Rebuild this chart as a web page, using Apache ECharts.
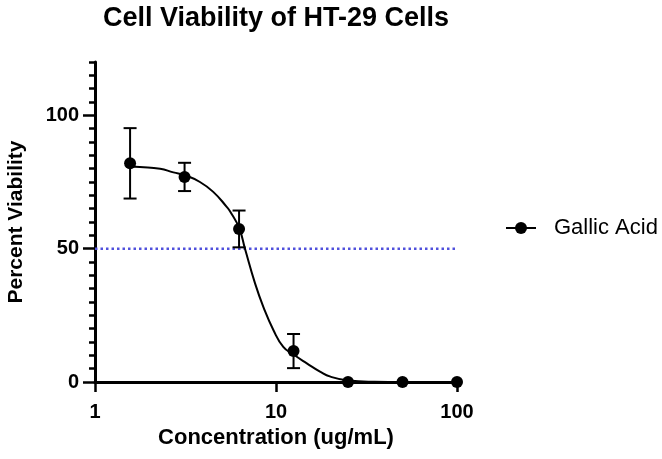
<!DOCTYPE html>
<html lang="en">
<head>
    <meta charset="UTF-8">
    <title>Cell Viability of HT-29 Cells</title>
    <script src="https://cdn.jsdelivr.net/npm/echarts@6/dist/echarts.min.js"></script>
</head>
<body style="margin:0">
    <div id="chart" style="width: 662px; height: 459px;"></div>
</body>
</html>
<script>
    // measured points (concentration in ug/mL)
    var doseX = [1.5625, 3.125, 6.25, 12.5, 25, 50, 100];
    var viabilityMean = [82, 76.9, 57.4, 11.6, 0, 0, 0];
    var viabilityErr = [13.2, 5.3, 6.9, 6.4, 0, 0, 0];

    // fitted curve
    var fitX = [1.5625, 1.77, 2.29, 2.71, 3.125, 3.8, 4.5, 5.34, 5.57, 6.25, 6.74, 7.66, 8.51, 9.67, 10.97, 12.5, 14.8, 17.5, 20, 25, 35, 50, 100];
    var fitY = [80.8, 80.6, 80.0, 78.6, 77.6, 75.0, 71.3, 65.7, 64.0, 57.8, 50, 37, 28.2, 19.5, 13.2, 10.3, 7.0, 3.9, 2.0, 0.6, 0.1, 0, 0];

    var thresholdY = 50;
    var yMajor = [0, 50, 100];

    var font = "'Liberation Sans', Arial, sans-serif";

    var points = doseX.map(function (x, i) { return [x, viabilityMean[i]]; });
    var errBars = doseX.map(function (x, i) {
        return [x, viabilityMean[i] - viabilityErr[i], viabilityMean[i] + viabilityErr[i]];
    }).filter(function (d) { return d[2] > d[1]; });
    var curve = fitX.map(function (x, i) { return [x, fitY[i]]; });

    var chart = echarts.init(document.getElementById('chart'));
    chart.setOption({
        animation: false,
        backgroundColor: '#fff',
        title: {
            text: 'Cell Viability of HT-29 Cells',
            left: 98,
            top: 0,
            textStyle: { fontFamily: font, fontSize: 27, fontWeight: 'bold', color: '#000' }
        },
        legend: {
            data: ['Gallic Acid'],
            left: 500,
            top: 212,
            itemWidth: 30,
            itemHeight: 15,
            textStyle: { fontFamily: font, fontSize: 22, color: '#000', padding: [0, 0, 0, 13] }
        },
        grid: { left: 95, right: 205, top: 62, bottom: 77, outerBoundsMode: 'none' },
        xAxis: {
            type: 'log',
            logBase: 10,
            min: 1,
            max: 100,
            name: 'Concentration (ug/mL)',
            nameLocation: 'middle',
            nameGap: 40,
            nameTextStyle: { fontFamily: font, fontSize: 22, fontWeight: 'bold', color: '#000' },
            axisLine: { lineStyle: { color: '#000', width: 3 } },
            axisTick: { length: 10, lineStyle: { color: '#000', width: 2.5 } },
            axisLabel: { margin: 20, fontFamily: font, fontSize: 20, fontWeight: 'bold', color: '#000' },
            splitLine: { show: false }
        },
        yAxis: [{
            type: 'value',
            min: 0,
            max: 120,
            interval: 5,
            position: 'left',
            axisLine: { show: true, lineStyle: { color: '#000', width: 3 } },
            axisTick: { length: 6, lineStyle: { color: '#000', width: 2.5 } },
            axisLabel: { show: false },
            splitLine: { show: false }
        }, {
            type: 'value',
            min: 0,
            max: 120,
            interval: 50,
            position: 'left',
            name: 'Percent Viability',
            nameLocation: 'middle',
            nameGap: 68,
            nameTextStyle: { fontFamily: font, fontSize: 21, fontWeight: 'bold', color: '#000' },
            axisLine: { show: false },
            axisTick: { length: 12, customValues: yMajor, lineStyle: { color: '#000', width: 2.5 } },
            axisLabel: { margin: 16, customValues: yMajor, fontFamily: font, fontSize: 20, fontWeight: 'bold', color: '#000' },
            splitLine: { show: false }
        }],
        series: [{
            name: 'threshold',
            type: 'line',
            data: [[1, thresholdY], [100, thresholdY]],
            showSymbol: false,
            silent: true,
            lineStyle: { color: '#5050dc', width: 2.5, type: [2.5, 3] },
            z: 1
        }, {
            name: 'Gallic Acid',
            type: 'line',
            data: curve,
            smooth: true,
            symbol: 'circle',
            symbolSize: 12,
            showSymbol: false,
            itemStyle: { color: '#000' },
            lineStyle: { color: '#000', width: 2 },
            z: 2
        }, {
            name: 'errors',
            type: 'custom',
            data: errBars,
            renderItem: function (params, api) {
                var x = api.value(0);
                var lo = api.coord([x, api.value(1)]);
                var hi = api.coord([x, api.value(2)]);
                var w = 6.5;
                var style = { stroke: '#000', lineWidth: 2 };
                return {
                    type: 'group',
                    children: [
                        { type: 'line', shape: { x1: lo[0], y1: lo[1], x2: hi[0], y2: hi[1] }, style: style },
                        { type: 'line', shape: { x1: lo[0] - w, y1: lo[1], x2: lo[0] + w, y2: lo[1] }, style: style },
                        { type: 'line', shape: { x1: hi[0] - w, y1: hi[1], x2: hi[0] + w, y2: hi[1] }, style: style }
                    ]
                };
            },
            z: 3
        }, {
            name: 'points',
            type: 'scatter',
            data: points,
            symbol: 'circle',
            symbolSize: 12,
            itemStyle: { color: '#000', opacity: 1 },
            z: 4
        }]
    });
</script>
